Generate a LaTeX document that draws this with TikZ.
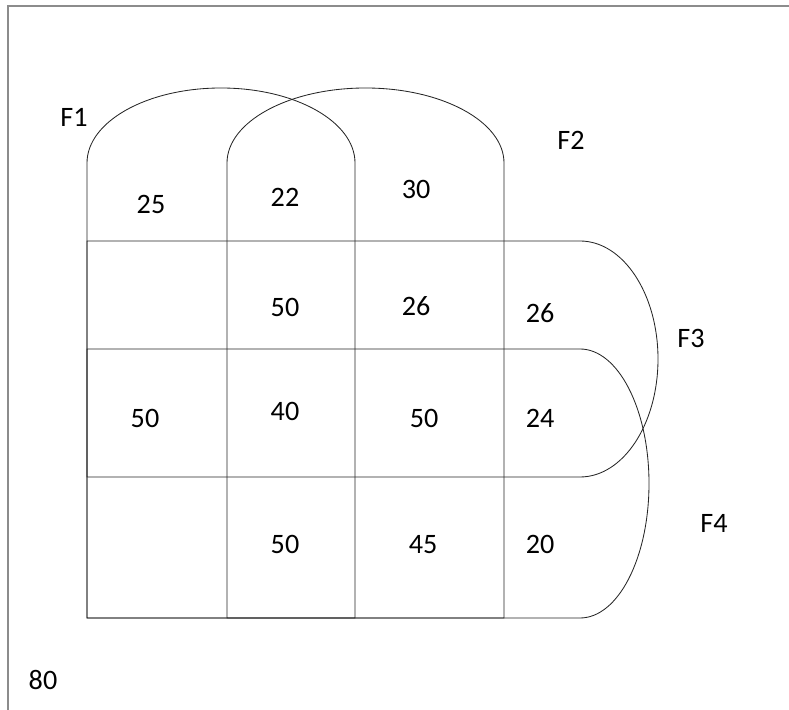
\documentclass[tikz,border=0pt]{standalone}
\usepackage{fontspec}
\setmainfont{Carlito}
\usepackage{tikz}

\begin{document}
\begin{tikzpicture}[x=0.025cm, y=0.025cm,
    sheet/.style={draw=black!45, line width=0.8pt},
    setline/.style={draw=black!85, line width=0.6pt},
    num/.style={font=\fontsize{20}{24}\selectfont, inner sep=0pt, text depth=0pt},
    lbl/.style={num}
]
\useasboundingbox (0,0) rectangle (789,710);

% page edge, cut off at right and bottom
\draw[sheet] (8,0) |- (789,704);

% F1, F2: columns with round tops
\draw[setline] (87,92) -- (87,547) arc[start angle=180, end angle=0, x radius=134, y radius=75] -- (355,92) -- cycle;
\draw[setline] (227,92) -- (227,547) arc[start angle=180, end angle=0, x radius=138.5, y radius=75] -- (504,92) -- cycle;

% F3, F4: rows with round right ends
\draw[setline] (87,469) -- (580,469) arc[start angle=90, end angle=-90, x radius=78, y radius=118] -- (87,233) -- cycle;
\draw[setline] (87,361) -- (580,361) arc[start angle=90, end angle=-90, x radius=69, y radius=134.5] -- (87,92) -- cycle;

% set names
\node[lbl] (f1) at (74,592.5) {F1};
\node[lbl] (f2) at (571,569.5) {F2};
\node[lbl] (f3) at (691,372) {F3};
\node[lbl] (f4) at (714,187) {F4};

% top row
\node[num] (a25) at (151,506) {25};
\node[num] (a22) at (285,513) {22};
\node[num] (a30) at (416,521) {30};

% second row
\node[num] (b50) at (285,403) {50};
\node[num] (b26) at (416,404) {26};
\node[num] (b26r) at (540,397) {26};

% third row
\node[num] (c50) at (145,292) {50};
\node[num] (c40) at (285,298.5) {40};
\node[num] (c50m) at (424,292) {50};
\node[num] (c24) at (540,292) {24};

% bottom row
\node[num] (d50) at (285,166) {50};
\node[num] (d45) at (423,166) {45};
\node[num] (d20) at (540,166) {20};

% outside all sets
\node[num] (out) at (43,30) {80};
\end{tikzpicture}
\end{document}
